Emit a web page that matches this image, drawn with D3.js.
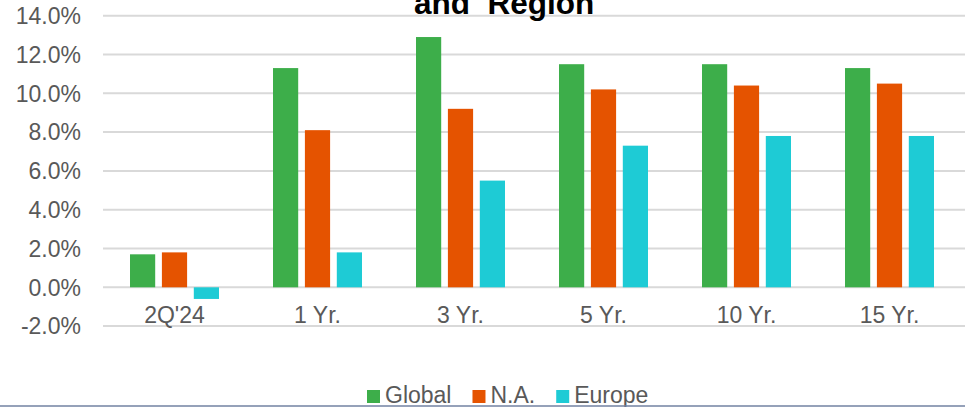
<!DOCTYPE html>
<html>
<head>
<meta charset="utf-8">
<script src="https://cdn.jsdelivr.net/npm/d3@7"></script>
<style>
  body { margin: 0; background: #fff; }
  svg { display: block; font-family: "Liberation Sans", Arial, sans-serif; }
</style>
</head>
<body>
<svg id="chart" width="965" height="407"></svg>
<script>
// data
var categories = ["2Q'24", "1 Yr.", "3 Yr.", "5 Yr.", "10 Yr.", "15 Yr."]
var seriesNames = ["Global", "N.A.", "Europe"]
var globalVals = [1.7, 11.3, 12.9, 11.5, 11.5, 11.3]
var naVals = [1.8, 8.1, 9.2, 10.2, 10.4, 10.5]
var europeVals = [-0.6, 1.8, 5.5, 7.3, 7.8, 7.8]
var yTicks = [-2, 0, 2, 4, 6, 8, 10, 12, 14]
var colors = ["#3dae4a", "#e55300", "#1ecbd5"]

var allVals = [globalVals, naVals, europeVals]
var rows = []
categories.forEach(function (c, i) {
  seriesNames.forEach(function (s, j) {
    rows.push({ cat: c, series: s, value: allVals[j][i] })
  })
})

var svg = d3.select("#chart")
var W = 965

var y = d3.scaleLinear().domain([-2, 14]).range([326.1, 15.7])
var x0 = d3.scaleBand().domain(categories).range([103, 961])
var x1 = d3.scaleBand().domain(seriesNames)
  .range([27, x0.bandwidth() - 27])
  .paddingInner(0.21)
var color = d3.scaleOrdinal().domain(seriesNames).range(colors)

// gridlines
svg.append("g")
  .selectAll("line")
  .data(yTicks)
  .enter()
  .append("line")
    .attr("x1", 103)
    .attr("x2", W)
    .attr("y1", function (d) { return y(d) })
    .attr("y2", function (d) { return y(d) })
    .attr("stroke", "#d9d9d9")
    .attr("stroke-width", 2)

// y tick labels
svg.append("g")
  .selectAll("text")
  .data(yTicks)
  .enter()
  .append("text")
    .attr("x", 81)
    .attr("y", function (d) { return y(d) })
    .attr("dy", "0.36em")
    .attr("text-anchor", "end")
    .style("font-size", "23px")
    .style("fill", "#595959")
    .text(function (d) { return d.toFixed(1) + "%" })

// bars
svg.append("g")
  .selectAll("rect")
  .data(rows)
  .enter()
  .append("rect")
    .attr("x", function (d) { return x0(d.cat) + x1(d.series) })
    .attr("width", x1.bandwidth())
    .attr("y", function (d) { return y(Math.max(0, d.value)) })
    .attr("height", function (d) { return Math.abs(y(d.value) - y(0)) })
    .style("fill", function (d) { return color(d.series) })

// category labels
svg.append("g")
  .selectAll("text")
  .data(categories)
  .enter()
  .append("text")
    .attr("x", function (d) { return x0(d) + x0.bandwidth() / 2 })
    .attr("y", 323)
    .attr("text-anchor", "middle")
    .style("font-size", "23px")
    .style("fill", "#595959")
    .text(function (d) { return d })

// title (its top is cut off in the original too)
svg.append("text")
  .attr("x", 504)
  .attr("y", 14)
  .attr("text-anchor", "middle")
  .style("font-size", "31.5px")
  .style("font-weight", "bold")
  .style("fill", "#000")
  .style("white-space", "pre")
  .text("and  Region")

// legend
var leg = svg.append("g")
var lx = 367
seriesNames.forEach(function (s) {
  leg.append("rect")
    .attr("x", lx)
    .attr("y", 390)
    .attr("width", 13)
    .attr("height", 13)
    .style("fill", color(s))
  var t = leg.append("text")
    .attr("x", lx + 18)
    .attr("y", 402.5)
    .style("font-size", "23px")
    .style("fill", "#595959")
    .text(s)
  lx = lx + 18 + t.node().getComputedTextLength() + 21
})

// bottom border
svg.append("line")
  .attr("x1", 0)
  .attr("x2", W)
  .attr("y1", 406)
  .attr("y2", 406)
  .attr("stroke", "#7282a2")
  .attr("stroke-width", 1.5)
</script>
</body>
</html>
